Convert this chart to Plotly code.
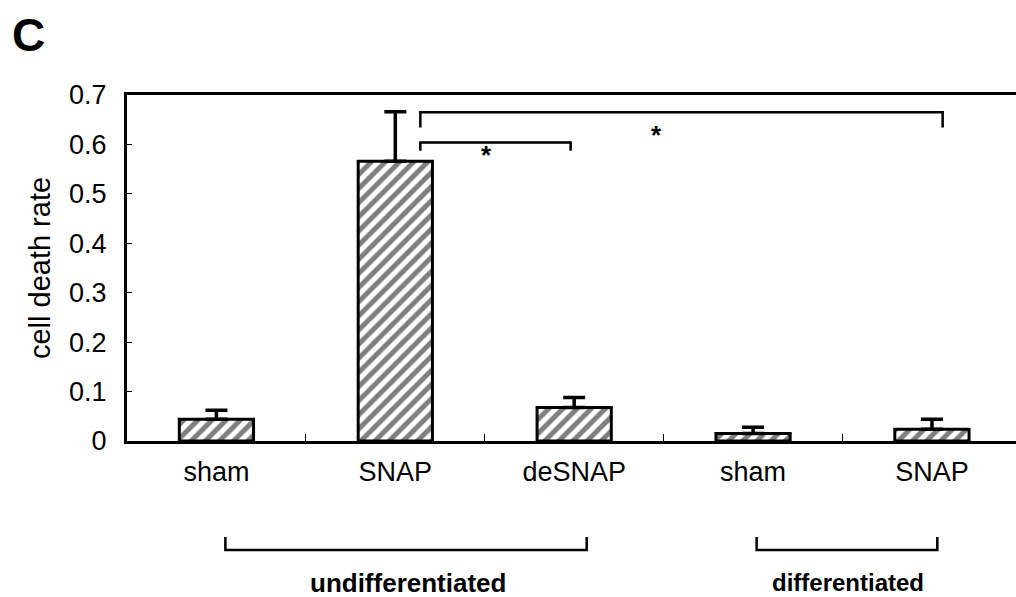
import plotly.graph_objects as go

# ---- data ----
categories = ["sham", "SNAP", "deSNAP", "sham", "SNAP"]
death_rate = [0.044, 0.566, 0.068, 0.015, 0.024]
error_up = [0.018, 0.100, 0.020, 0.013, 0.020]
groups = ["undifferentiated", "differentiated"]
y_ticks = [0, 0.1, 0.2, 0.3, 0.4, 0.5, 0.6, 0.7]

FONT = "Liberation Sans, Arial, Helvetica, sans-serif"
xpos = list(range(len(categories)))

fig = go.Figure()
fig.add_trace(go.Bar(
    x=xpos, y=death_rate, width=0.415,
    marker=dict(color="white", line=dict(color="black", width=3),
                pattern=dict(shape="/", fgcolor="black", bgcolor="white",
                             size=10, solidity=0.5)),
    error_y=dict(type="data", symmetric=False, array=error_up,
                 arrayminus=[0] * len(error_up), color="black",
                 thickness=3.5, width=11),
    showlegend=False, hoverinfo="skip",
))

# plot-area pixel geometry helpers (for annotations outside plot)
L, T, B, W, H = 127, 95, 156, 1016, 597
ph = H - T - B


def py(px_y):
    return (H - B - px_y) / ph


def px(px_x):
    return (px_x - L) / (W - L)


shapes = []
# significance brackets (data coordinates)
shapes.append(dict(type="path", xref="x", yref="y",
                   path="M 1.14,0.634 L 1.14,0.665 L 4.06,0.665 L 4.06,0.634",
                   line=dict(color="black", width=2.5)))
shapes.append(dict(type="path", xref="x", yref="y",
                   path="M 1.14,0.587 L 1.14,0.604 L 1.98,0.604 L 1.98,0.587",
                   line=dict(color="black", width=2.5)))
# group brackets below the axis
for x0, x1 in [(0.05, 2.07), (3.02, 4.03)]:
    shapes.append(dict(type="path", xref="x", yref="paper",
                       path=f"M {x0},{py(537)} L {x0},{py(550)} L {x1},{py(550)} L {x1},{py(537)}",
                       line=dict(color="black", width=2.5)))

annotations = [
    dict(text="<b>*</b>", x=1.507, y=0.578, xref="x", yref="y", showarrow=False,
         xanchor="center", yanchor="middle",
         font=dict(family=FONT, size=26, color="black")),
    dict(text="<b>*</b>", x=2.46, y=0.620, xref="x", yref="y", showarrow=False,
         xanchor="center", yanchor="middle",
         font=dict(family=FONT, size=26, color="black")),
    dict(text="<b>" + groups[0] + "</b>", x=1.07, y=py(583), xref="x", yref="paper",
         showarrow=False, xanchor="center", yanchor="middle",
         font=dict(family=FONT, size=26, color="black")),
    dict(text="<b>" + groups[1] + "</b>", x=3.53, y=py(582), xref="x", yref="paper",
         showarrow=False, xanchor="center", yanchor="middle",
         font=dict(family=FONT, size=24, color="black")),
    dict(text="<b>C</b>", x=px(28), y=py(35), xref="paper", yref="paper",
         showarrow=False, xanchor="center", yanchor="middle",
         font=dict(family=FONT, size=46, color="black")),
]

fig.update_layout(
    width=W, height=H,
    margin=dict(l=L, r=0, t=T, b=B),
    paper_bgcolor="white", plot_bgcolor="white",
    font=dict(family=FONT, color="black", size=27),
    shapes=shapes, annotations=annotations,
    xaxis=dict(range=[-0.5, 4.47], tickvals=xpos, ticktext=categories,
               ticks="", showline=True, linewidth=3, linecolor="black",
               mirror=True, showgrid=False, zeroline=False,
               tickfont=dict(size=27), ticklabelstandoff=5,
               minor=dict(tickvals=[0.5, 1.5, 2.5, 3.5], ticks="inside",
                          ticklen=7, tickwidth=1, tickcolor="black")),
    yaxis=dict(range=[0, 0.7], tickvals=y_ticks,
               ticktext=[("0" if v == 0 else f"{v:.1f}") for v in y_ticks],
               ticks="inside", ticklen=5, tickwidth=1, tickcolor="black",
               showline=True, linewidth=3, linecolor="black", mirror=False,
               showgrid=False, zeroline=False, tickfont=dict(size=27),
               ticklabelstandoff=12,
               title=dict(text="cell death rate", font=dict(size=29), standoff=10)),
)

fig.write_html("out.html")
